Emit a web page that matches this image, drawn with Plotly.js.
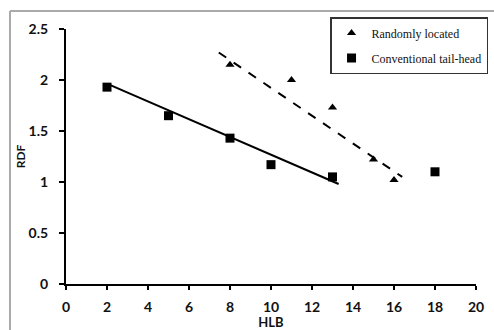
<!DOCTYPE html>
<html><head><meta charset="utf-8">
<script src="https://cdn.plot.ly/plotly-3.0.1.min.js"></script>
<style>html,body{margin:0;padding:0;background:#fff}#c{width:494px;height:330px}</style>
</head><body><div id="c"></div>
<script>
// Data
const randomHLB = [8, 11, 13, 15, 16];
const randomRDF = [2.15, 2.0, 1.73, 1.22, 1.02];
const convHLB = [2, 5, 8, 10, 13, 18];
const convRDF = [1.93, 1.65, 1.43, 1.17, 1.05, 1.1];
// Trend lines (end points)
const randomTrendX = [7.45, 16.4];
const randomTrendY = [2.27, 1.05];
const convTrendX = [2.05, 13.3];
const convTrendY = [1.96, 0.98];
const xTicks = [0, 2, 4, 6, 8, 10, 12, 14, 16, 18, 20];
const yTicks = [0, 0.5, 1, 1.5, 2, 2.5];
const yTickText = ['0', '0.5', '1', '1.5', '2', '2.5'];

const tickFont = {family: 'Lato, "Open Sans", sans-serif', size: 14, color: '#111', weight: 'bold'};

const traces = [
  {x: randomTrendX, y: randomTrendY, mode: 'lines', line: {color: '#000', width: 2, dash: 'dash'}, showlegend: false, hoverinfo: 'skip'},
  {x: convTrendX, y: convTrendY, mode: 'lines', line: {color: '#000', width: 2}, showlegend: false, hoverinfo: 'skip'},
  {x: randomHLB, y: randomRDF, mode: 'markers', name: 'Randomly located', legendgroup: 'a',
   marker: {symbol: 'triangle-up', size: 8, color: '#000'}},
  {x: convHLB, y: convRDF, mode: 'markers', name: 'Conventional tail-head', legendgroup: 'b',
   marker: {symbol: 'square', size: 9, color: '#000'}}
];

const layout = {
  width: 494, height: 330,
  margin: {l: 66, r: 18, t: 29, b: 46, autoexpand: false},
  paper_bgcolor: '#fff', plot_bgcolor: '#fff',
  showlegend: true,
  legend: {
    x: 0.644, y: 1.047, xanchor: 'left', yanchor: 'top',
    bordercolor: '#333', borderwidth: 1.5, bgcolor: '#fff',
    font: {family: '"Liberation Serif", "Times New Roman", serif', size: 12, color: '#111'},
    traceorder: 'grouped', tracegroupgap: 6, entrywidth: 120
  },
  xaxis: {
    range: [0, 20], tickvals: xTicks, ticktext: xTicks.map(String),
    showgrid: false, zeroline: false, showline: true, linecolor: '#000', linewidth: 2,
    ticks: 'outside', ticklen: 4, tickwidth: 2, tickcolor: '#000', ticklabelstandoff: 5,
    tickfont: tickFont,
    title: {text: 'HLB', font: {family: 'Lato, "Open Sans", sans-serif', size: 13, color: '#111', weight: 'bold'}, standoff: 6}
  },
  yaxis: {
    range: [0, 2.5], tickvals: yTicks, ticktext: yTickText,
    showgrid: false, zeroline: false, showline: true, linecolor: '#000', linewidth: 2,
    ticks: 'outside', ticklen: 5, tickwidth: 2, tickcolor: '#000', ticklabelstandoff: 8,
    tickfont: tickFont,
    title: {text: 'RDF', font: {family: 'Lato, "Open Sans", sans-serif', size: 12, color: '#111', weight: 'bold'}, standoff: 0}
  },
  shapes: [
    {type: 'line', xref: 'paper', yref: 'paper', x0: -0.1366, x1: 1.05, y0: 1.0706, y1: 1.0706, line: {color: '#aaa', width: 2}},
    {type: 'line', xref: 'paper', yref: 'paper', x0: -0.1366, x1: -0.1366, y0: 1.0706, y1: -0.2, line: {color: '#aaa', width: 2}}
  ]
};

Plotly.newPlot('c', traces, layout, {staticPlot: true, displayModeBar: false});
</script>
</body></html>
